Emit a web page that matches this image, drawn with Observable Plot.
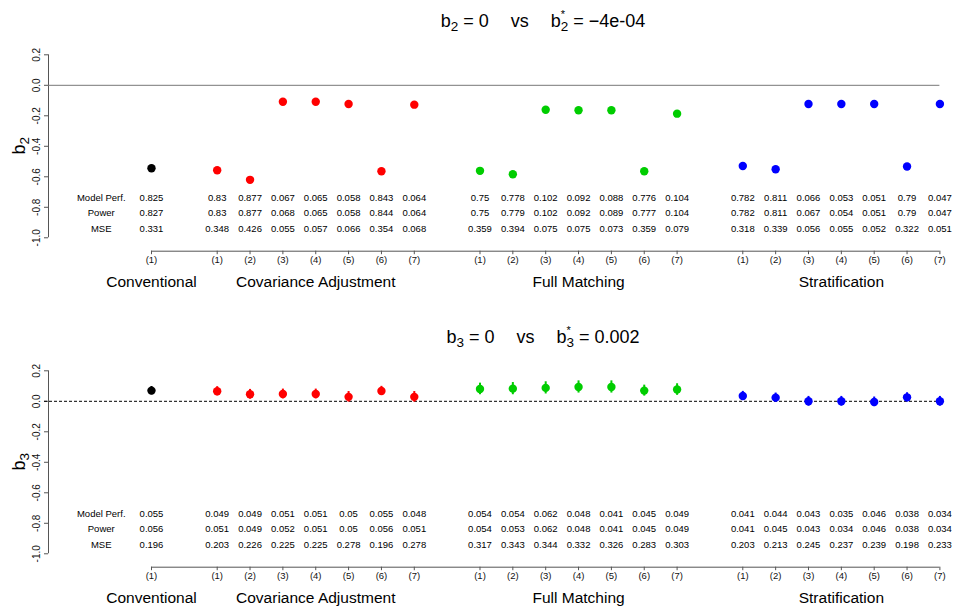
<!DOCTYPE html>
<html>
<head>
<meta charset="utf-8">
<script src="https://cdn.jsdelivr.net/npm/d3@7"></script>
<script src="https://cdn.jsdelivr.net/npm/@observablehq/plot@0.6"></script>
<style>
  html, body { margin: 0; padding: 0; background: white; }
  #chart svg { display: block; }
</style>
</head>
<body>
<div id="chart"></div>
<script>
// ---------- data ----------
const groups = ["Conventional", "Covariance Adjustment", "Full Matching", "Stratification"];
const groupSizes = [1, 7, 7, 7];
const groupColors = ["black", "#FF0000", "#00CD00", "#0000FF"];
const methodLabels = ["(1)", "(2)", "(3)", "(4)", "(5)", "(6)", "(7)"];
const rowLabels = ["Model Perf.", "Power", "MSE"];
const yTicks = [0.2, 0.0, -0.2, -0.4, -0.6, -0.8, -1.0];

// panel 1: b2
const b2Est = [-0.544,
  -0.557, -0.620, -0.108, -0.108, -0.123, -0.564, -0.127,
  -0.561, -0.583, -0.160, -0.164, -0.164, -0.564, -0.186,
  -0.529, -0.551, -0.123, -0.123, -0.123, -0.533, -0.123];
const b2Perf = ["0.825",
  "0.83", "0.877", "0.067", "0.065", "0.058", "0.843", "0.064",
  "0.75", "0.778", "0.102", "0.092", "0.088", "0.776", "0.104",
  "0.782", "0.811", "0.066", "0.053", "0.051", "0.79", "0.047"];
const b2Power = ["0.827",
  "0.83", "0.877", "0.068", "0.065", "0.058", "0.844", "0.064",
  "0.75", "0.779", "0.102", "0.092", "0.089", "0.777", "0.104",
  "0.782", "0.811", "0.067", "0.054", "0.051", "0.79", "0.047"];
const b2MSE = ["0.331",
  "0.348", "0.426", "0.055", "0.057", "0.066", "0.354", "0.068",
  "0.359", "0.394", "0.075", "0.075", "0.073", "0.359", "0.079",
  "0.318", "0.339", "0.056", "0.055", "0.052", "0.322", "0.051"];

// panel 2: b3
const b3Est = [0.070,
  0.066, 0.046, 0.048, 0.048, 0.029, 0.068, 0.029,
  0.081, 0.083, 0.088, 0.094, 0.094, 0.070, 0.077,
  0.035, 0.024, 0.000, 0.000, -0.004, 0.026, 0.000];
const b3Err = [0.027,
  0.030, 0.032, 0.032, 0.032, 0.035, 0.030, 0.035,
  0.038, 0.040, 0.040, 0.040, 0.040, 0.036, 0.038,
  0.030, 0.030, 0.032, 0.032, 0.032, 0.030, 0.032];
const b3Perf = ["0.055",
  "0.049", "0.049", "0.051", "0.051", "0.05", "0.055", "0.048",
  "0.054", "0.054", "0.062", "0.048", "0.041", "0.045", "0.049",
  "0.041", "0.044", "0.043", "0.035", "0.046", "0.038", "0.034"];
const b3Power = ["0.056",
  "0.051", "0.049", "0.052", "0.051", "0.05", "0.056", "0.051",
  "0.054", "0.053", "0.062", "0.048", "0.041", "0.045", "0.049",
  "0.041", "0.045", "0.043", "0.034", "0.046", "0.038", "0.034"];
const b3MSE = ["0.196",
  "0.203", "0.226", "0.225", "0.225", "0.278", "0.196", "0.278",
  "0.317", "0.343", "0.344", "0.332", "0.326", "0.283", "0.303",
  "0.203", "0.213", "0.245", "0.237", "0.239", "0.198", "0.233"];

// ---------- layout ----------
const FONT = "'Liberation Sans', Arial, Helvetica, sans-serif";
const xMin = -3.135, xMax = 24;
const yLow = -1.088, yTop = 0.2;
const rowY = [-0.738, -0.839, -0.939];
const fmtY = d => d.toFixed(1);

function panel(cfg) {
  const rows = [];
  const centers = [];
  let k = 0, start = 0;
  groupSizes.forEach((n, g) => {
    const ps = [];
    for (let i = 0; i < n; i++) {
      rows.push({
        pos: start + i, g, label: methodLabels[i],
        est: cfg.est[k], err: cfg.err ? cfg.err[k] : 0,
        perf: cfg.perf[k], power: cfg.power[k], mse: cfg.mse[k],
        color: groupColors[g]
      });
      ps.push(start + i);
      k++;
    }
    centers.push({name: groups[g], pos: d3.mean(ps)});
    start += n + 1;
  });
  const posLabel = new Map(rows.map(r => [r.pos, r.label]));
  const stats = ["perf", "power", "mse"];

  const zeroRule = cfg.dashed
    ? Plot.ruleY([0], {x1: xMin, x2: xMax, stroke: "black", strokeDasharray: "3,2", insetLeft: -4})
    : Plot.ruleY([0], {x1: xMin, x2: xMax, stroke: "#777"});

  const marks = [
    // y axis
    Plot.ruleX([xMin], {y1: -1, y2: yTop, stroke: "#555"}),
    Plot.axisY(yTicks, {anchor: "left", tickSize: 4, tickFormat: () => "", stroke: "#555", label: null}),
    Plot.text(yTicks, {x: xMin, y: d => d, text: fmtY, rotate: -90, dx: -12, lineAnchor: "middle", textAnchor: "middle", fontSize: 10, fill: "#111"}),
    // x axis
    Plot.ruleY([yLow], {x1: 0, x2: xMax, stroke: "#555"}),
    Plot.axisX(rows.map(r => r.pos), {anchor: "bottom", tickSize: 3.5, tickPadding: 1.5, tickFormat: d => posLabel.get(d), fontSize: 9.5, color: "#111", stroke: "#555", label: null}),
    Plot.text(centers, {x: "pos", y: () => yLow, text: "name", dy: 31, fontSize: 15.5, fill: "#000", lineAnchor: "middle"}),
    // reference line
    zeroRule,
    // table
    Plot.text(rowLabels, {x: () => -1.53, y: (d, i) => rowY[i], text: d => d, fontSize: 9.5, fill: "#000", lineAnchor: "middle"}),
    ...stats.map((s, j) => Plot.text(rows, {x: "pos", y: () => rowY[j], text: s, fontSize: 9.5, fill: "#000", lineAnchor: "middle"})),
  ];
  if (cfg.err) {
    marks.push(Plot.ruleX(rows, {x: "pos", y1: d => d.est - d.err, y2: d => d.est + d.err, stroke: "color", strokeWidth: 2}));
  }
  marks.push(Plot.dot(rows, {x: "pos", y: "est", fill: "color", r: 4.2}));

  const svg = Plot.plot({
    width: 953,
    height: cfg.height,
    marginLeft: 48,
    marginRight: 953 - 939.4,
    marginTop: 54.3,
    marginBottom: cfg.height - 250.7,
    x: {domain: [xMin, xMax]},
    y: {domain: [yLow, yTop]},
    color: {type: "identity"},
    style: {fontFamily: FONT, fontSize: "9.5px", color: "#111", background: "white"},
    marks
  });

  const s = d3.select(svg);
  const ys = svg.scale("y");
  // title with subscript / superscript
  const t = s.append("text")
    .attr("x", 543).attr("y", 26.7)
    .attr("text-anchor", "middle")
    .attr("font-family", FONT).attr("font-size", 18).attr("fill", "#000");
  t.append("tspan").text("b");
  t.append("tspan").attr("font-size", 13.5).attr("dy", 4).text(cfg.sub);
  t.append("tspan").attr("dy", -4).text(" = 0");
  t.append("tspan").attr("dx", 22).text("vs");
  t.append("tspan").attr("dx", 22).text("b");
  t.append("tspan").attr("font-size", 11).attr("dy", -9).text("*");
  t.append("tspan").attr("font-size", 13.5).attr("dx", -4.3).attr("dy", 13).text(cfg.sub);
  t.append("tspan").attr("dy", -4).text(" = " + cfg.rhs);

  // y-axis label
  const ymid = (ys.apply(-1) + ys.apply(yTop)) / 2;
  const yl = s.append("text")
    .attr("transform", `translate(25,${ymid}) rotate(-90)`)
    .attr("text-anchor", "middle")
    .attr("font-family", FONT).attr("font-size", 18).attr("fill", "#000");
  yl.append("tspan").text("b");
  yl.append("tspan").attr("font-size", 13.5).attr("dy", 4).text(cfg.sub);

  return svg;
}

const chart = document.getElementById("chart");
chart.appendChild(panel({est: b2Est, perf: b2Perf, power: b2Power, mse: b2MSE, height: 316, sub: "2", rhs: "\u22124e-04", dashed: false}));
chart.appendChild(panel({est: b3Est, err: b3Err, perf: b3Perf, power: b3Power, mse: b3MSE, height: 293, sub: "3", rhs: "0.002", dashed: true}));
</script>
</body>
</html>
